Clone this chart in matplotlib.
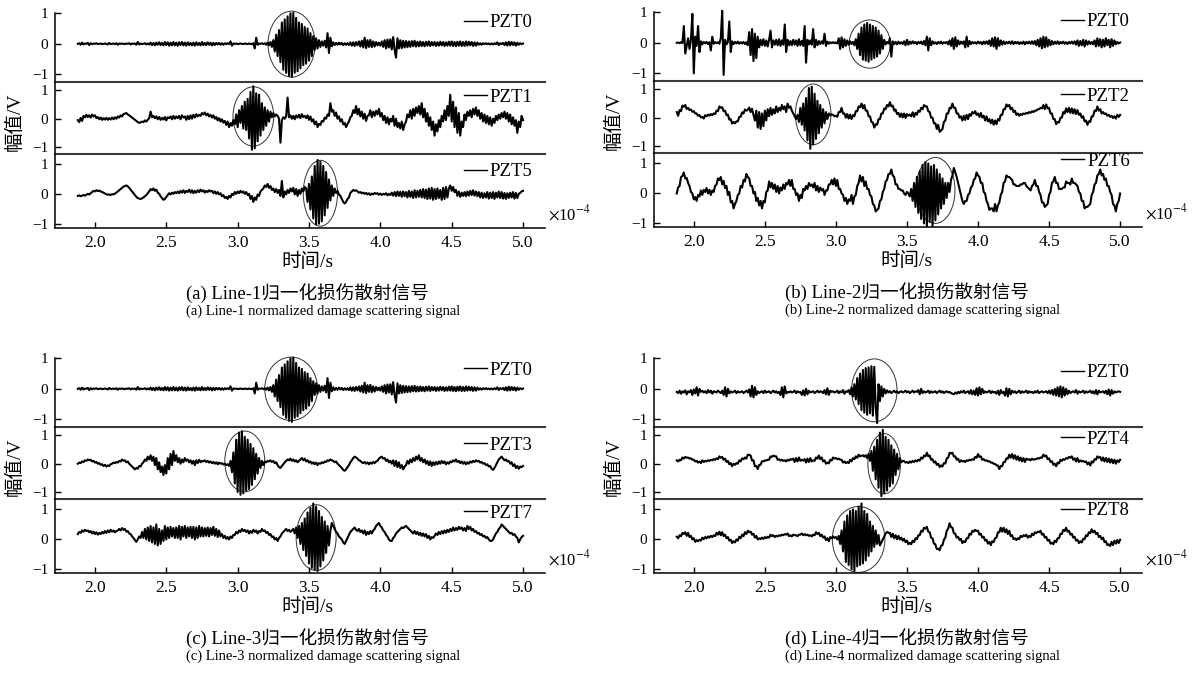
import numpy as np
import matplotlib
matplotlib.use("Agg")
import matplotlib.pyplot as plt
from matplotlib.patches import Ellipse
from matplotlib.lines import Line2D

plt.rcParams['font.family'] = ['Liberation Serif', 'Noto Sans CJK SC']
plt.rcParams['mathtext.fontset'] = 'stix'
plt.rcParams['axes.unicode_minus'] = True

# ####################################### DATA ################################################################ #
# time axis in units of 1e-4 s, signal amplitudes (in 1/100 V)
t = np.round(np.linspace(1.88, 5.00, 313), 2)

line1_pzt0 = [
    0, 2, -3, 4, -2, 1, 0, 3, -4, 2,  -1, 1, 0, 2, -1, 0, 1, -1, 0, 1,
    0, -2, 3, -1, 0, 1, -1, 2, -3, 1,  0, 1, 0, -1, 1, 0, 2, -2, 1, 0,
    1, -3, 6, -2, 1, -1, 0, 2, -2, 1,  -2, 4, -4, 3, -5, 4, -3, 5, -4, 3,
    -5, 6, -4, 5, -6, 4, -5, 6, -5, 4,  -6, 5, -4, 6, -5, 4, -6, 5, -4, 3,
    -5, 4, -6, 5, -4, 3, -5, 6, -4, 3,  -4, 5, -3, 4, -5, 3, -4, 3, -2, 3,
    -3, 2, -3, 2, -1, 2, -1, 8, -6, 1,  0, 1, -1, 0, 1, 0, -1, 1, 0, -1,
    1, 0, -1, 2, -15, 20, -3, 1, 0, 2,  -1, 2, -3, 4, -5, 6, -10, 12, -25, 30,
    -40, 45, -60, 70, -85, 80, -95, 90, -105, 100,  -108, 102, -95, 85, -90, 70, -80, 65, -70, 55,
    -65, 50, -55, 35, -40, 25, -20, 18, -15, 12,  -10, 8, -6, 10, -12, 35, -30, 20, -8, 5,
    -4, 3, -3, 4, -2, 3, -4, 2, -3, 2,  -4, 5, -6, 5, -7, 6, -5, 8, -9, 10,
    -12, 20, -14, 12, -10, 13, -11, 8, -9, 6,  -5, 4, -6, 8, -10, 12, -15, 14, -12, 15,
    -18, 22, -20, -45, 18, -15, 12, -14, 10, -12,  9, -11, 8, -10, 9, -8, 10, -9, 7, -8,
    8, -7, 6, -8, 7, -6, 8, -7, 6, -5,  6, -7, 5, -6, 7, -5, 6, -7, 5, -6,
    7, -6, 8, -7, 6, -8, 7, -6, 8, -7,  6, -7, 8, -6, 7, -5, 6, -7, 5, -6,
    4, -3, 2, -3, 2, -1, 2, -1, 1, -2,  1, -2, 2, -1, 5, -4, 2, -1, 3, -4,
    5, -6, 7, -5, 6, -4, 5, -6, 4, -3,  2, -1, 1]

line1_pzt1 = [
    -5, -12, 3, -8, 10, 5, 14, 6, 12, 4,  15, 8, 12, 2, 6, -2, 4, -4, 2, -3,
    3, -4, 2, -3, 4, -2, 5, 0, 8, 4,  12, 8, 16, 18, 20, 15, 12, 8, 4, 0,
    -4, -8, -12, -15, -13, -10, -12, -6, -10, -4,  2, 25, 5, 10, 2, 8, -2, 6, -4, 3,
    -3, 6, -6, 5, 2, 8, -2, 10, 0, 8,  2, 10, -2, 12, 4, 8, -4, 10, -2, 12,
    0, 14, 4, 16, 8, 14, 10, 20, 15, 22,  12, 18, 8, 14, 4, 12, 0, 6, -6, 2,
    -10, -2, -14, -8, -22, -10, -30, -15, -25, -5,  -20, 15, -30, 30, -15, 45, -35, 60, -40, 70,
    -70, 95, -110, 115, -105, 90, -80, 85, -60, 55,  -40, 40, -25, 30, -10, 25, 5, 20, 8, 15,
    10, 0, -85, -5, 5, 0, 8, 75, 5, 12,  0, 10, -2, 12, 4, 14, 2, 16, 6, 10,
    2, 12, -4, 8, -10, -2, -20, -10, -30, -18,  -22, -8, -10, 4, 0, 15, 10, 55, 25, 30,
    10, 22, 0, 8, -10, -2, -20, -15, -30, -18,  -10, 5, 10, 30, 20, 45, 15, 35, 8, 25,
    0, 18, -8, 10, 12, 30, 5, 25, 10, 28,  15, 35, 8, 20, -5, 10, -15, 5, -20, 0,
    -10, 10, -25, 0, -30, -15, -35, -10, -40, -20,  -10, 15, 5, 30, 0, 35, 10, 40, 20, 45,
    15, 55, 5, 35, -10, 20, -25, 5, -40, -10,  -60, -20, -45, -5, -30, 10, -10, 30, -5, 45,
    10, 85, -10, 60, -30, 40, -50, 20, -60, -10,  -30, 15, -5, 25, 10, 30, 5, 35, 15, 40,
    10, 30, 0, 20, -10, 15, -15, 10, -20, 5,  -25, 0, -15, 10, -5, 15, 0, 20, 5, 25,
    0, 20, -10, 15, -20, 5, -25, -5, -50, -10,  -30, 10, -5]

line1_pzt5 = [
    -5, -3, -6, -4, -2, -4, -1, 2, 0, 4,  8, 12, 10, 14, 11, 13, 10, 8, 6, 3,
    1, -1, 0, -2, 1, 0, 3, 6, 10, 14,  18, 22, 26, 28, 30, 27, 22, 16, 10, 4,
    -2, -8, -12, -14, -15, -13, -10, -6, -2, 4,  10, 18, 14, 20, 12, 16, 6, 2, -6, -12,
    -18, -15, -8, -2, 4, 0, 6, 2, 8, 4,  10, 4, 12, 6, 14, 5, 12, 8, 16, 6,
    14, 4, 12, 6, 14, 8, 16, 10, 14, 6,  12, 8, 14, 10, 12, 4, 10, 2, 8, 0,
    4, -6, -2, -12, -8, -15, -5, -10, 2, -2,  8, 2, 10, 4, 12, 6, 10, 2, 8, -2,
    2, -15, -5, -25, -10, -18, 0, -5, 10, 15,  20, 30, 25, 35, 22, 28, 15, 20, 8, 18,
    5, 15, -5, 45, -10, 10, 0, 15, 5, 20,  10, 22, 0, 18, -5, 15, 2, 20, 10, 25,
    20, -25, 35, -50, 60, -80, 95, -100, 115, -98,  110, -90, 95, -70, 75, -45, 50, -20, 30, -5,
    20, 5, 12, 0, -5, -15, -25, -30, -25, -15,  -10, 5, 10, 15, 12, 14, 10, 6, 8, 4,
    6, 2, 5, 0, 4, -2, 3, 0, 5, 2,  4, -1, 3, -2, 2, 0, 4, -3, 2, -2,
    6, -4, 8, -6, 10, -5, 9, -8, 10, -6,  8, -10, 12, -8, 10, -12, 14, -10, 12, -8,
    15, -10, 18, -12, 16, -15, 20, -14, 22, -18,  18, -15, 20, -12, 15, -18, 22, -15, 25, -10,
    20, 30, 12, 25, 8, 15, -5, 10, -8, 6,  -5, 8, -6, 10, -4, 12, -2, 14, -4, 10,
    -6, 8, -10, 6, -12, 4, -10, 8, -14, 6,  -12, 8, -15, 6, -10, 10, -12, 8, -14, 5,
    -15, 4, -12, 6, -10, 8, -14, 5, -12, 2,  5, 10, 12]

line2_pzt0 = [
    0, 1, -1, 2, -1, 55, -35, -10, 15, -20,  10, 95, -100, 20, -10, 55, -30, 5, -5, 3,
    -2, 3, -4, 2, -25, 20, -3, 2, -1, 2,  -3, 15, 105, -105, 10, -5, 3, 70, -30, 5,
    -4, 3, -2, 4, -3, 2, -2, 3, -4, 2,  -8, 35, -40, 45, -60, 30, -50, 20, -15, 10,
    -8, 12, -10, 8, -12, 10, 40, -15, 8, -6,  10, -8, 12, -10, 8, -6, 60, -30, 10, -8,
    6, -8, 10, -6, 8, -10, 12, -8, 6, -10,  55, -65, 10, -5, 8, -6, 45, -15, 10, -8,
    6, -4, 5, -3, 30, -10, 4, -3, 2, -1,  2, -1, 1, -2, 15, -20, 18, -15, 12, -10,
    8, -6, 5, -4, 3, -8, 12, -20, 30, -40,  50, -55, 60, -58, 65, -62, 60, -55, 55, -50,
    50, -45, 40, -35, 25, -20, 10, -5, 3, -2,  15, -45, 5, -4, 3, -5, 4, -3, 2, -4,
    5, -8, 10, -6, 4, -3, 5, -2, 3, -4,  3, -2, 4, -5, 6, -8, 20, -25, 15, -8,
    5, -3, 2, -4, 3, -2, 4, -3, 2, -1,  3, -5, 8, -10, 15, -20, 18, -12, 8, -5,
    4, -3, 5, -15, 20, -12, 6, -4, 3, -2,  2, -3, 4, -2, 3, -5, 4, -3, 5, -4,
    8, -10, 15, -12, 18, -20, 15, -10, 8, -6,  5, -4, 3, -2, 4, -3, 5, -4, 3, -2,
    3, -4, 2, -3, 4, -5, 3, -2, 4, -3,  5, -4, 6, -8, 10, -12, 15, -18, 20, -15,
    18, -12, 10, -8, 6, -5, 4, -3, 5, -4,  3, -2, 4, -3, 2, -4, 3, -2, 4, -3,
    5, -6, 8, -10, 6, -8, 10, -12, 8, -6,  5, -4, 3, -5, 8, -12, 15, -10, 12, -15,
    10, -12, 15, -8, 10, -15, 12, -10, 8, -5,  3, -2, 1]

line2_pzt2 = [
    20, 7, 27, 23, 43, 39, 45, 31, 35, 27,  29, 21, 23, 15, 15, 7, 9, 1, 3, -3,
    9, 5, 11, 7, 13, 9, 15, 13, 25, 23,  40, 35, 37, 23, 25, 9, 11, -7, -5, -21,
    -15, -20, -13, -13, 3, 3, 19, 15, 29, 25,  28, 36, 20, 32, 10, -10, 25, -35, 20, -40,
    15, -30, 25, -10, 30, 5, 35, 10, 30, 15,  40, 20, 35, 25, 45, 30, 40, 20, 50, 35,
    40, 25, 15, 5, -5, 10, -15, 35, -25, 50,  -45, 70, -80, 105, -110, 110, -95, 85, -75, 60,
    -55, 45, -35, 30, -20, 20, -5, 15, 8, 12,  10, 5, 7, 3, 20, 20, 35, 15, 15, 0,
    13, -3, 11, -5, 9, 5, 23, 23, 40, 37,  50, 33, 45, 25, 25, 5, 5, -15, -17, -35,
    -23, -25, -5, -5, 15, 15, 33, 30, 45, 40,  55, 40, 43, 25, 29, 13, 17, 3, 15, 1,
    15, -1, 13, 7, 11, 5, 19, 3, 17, 11,  25, 21, 35, 30, 45, 40, 40, 23, 20, 0,
    0, -20, -20, -40, -25, -50, -45, -40, -15, -10,  15, 15, 35, 33, 50, 35, 35, 15, 15, 0,
    5, -10, 7, -8, 10, -5, 13, 7, 20, 15,  23, 10, 15, 3, 17, 1, 7, -10, 5, -13,
    -5, -20, -7, -25, -10, -23, -5, -10, 10, 10,  30, 30, 47, 40, 45, 30, 35, 20, 25, 10,
    15, 7, 13, 10, 15, 13, 17, 15, 20, 17,  23, 20, 25, 25, 30, 30, 35, 33, 45, 30,
    47, 33, 35, 15, 15, -5, -5, -23, -15, -17,  0, 0, 20, 15, 33, 20, 35, 17, 33, 15,
    30, 13, 27, 10, 15, 0, 5, -13, -10, -25,  -13, -15, 5, 5, 25, 23, 40, 25, 30, 15,
    20, 13, 15, 7, 10, 3, 7, -1, 5, -3,  10, 3, 10]

line2_pzt6 = [
    0, 20, 25, 55, 58, 70, 50, 52, 35, 25,  5, 0, -20, -12, -25, -5, -10, 10, -5, 12,
    5, 18, 0, 12, -5, 10, 5, 25, 30, 50,  45, 55, 30, 42, 18, 25, -5, 5, -30, -25,
    -50, -35, -25, -5, 0, 25, 20, 45, 40, 65,  55, 50, 25, 25, 0, 5, -25, -15, -40, -25,
    -50, -25, -30, 5, 10, 40, 20, 35, 15, 30,  5, 25, 0, 20, 10, 30, 15, 35, 30, 45,
    25, 45, 15, 15, -5, 0, -25, -5, -15, 15,  10, 25, 15, 35, 25, 30, 20, 35, 10, 25,
    5, 20, 10, 15, -5, 10, 10, 30, 30, 45,  30, 50, 25, 45, 15, 15, 0, -5, -25, -15,
    -35, -20, -25, -5, -35, -10, -5, 25, 35, 60,  40, 55, 25, 40, 15, 15, -5, -10, -35, -40,
    -60, -55, -50, -25, -20, 5, 15, 40, 45, 65,  65, 80, 60, 55, 30, 30, 15, 15, 10, 10,
    0, -5, 5, 0, -10, 15, -25, 35, -45, 55,  -65, 75, -85, 95, -100, 105, -110, 100, -95, 90,
    -110, 95, -90, 80, -70, 65, -50, 50, -35, 35,  -15, 35, 5, 45, 60, 85, 70, 55, 35, 15,
    -5, -25, -35, -25, -25, -5, 0, 20, 25, 45,  50, 70, 60, 55, 35, 35, 5, 0, -25, -35,
    -55, -50, -50, -60, -35, -60, -40, -30, -5, 5,  35, 40, 60, 55, 55, 50, 45, 30, 30, 25,
    25, 25, 30, 30, 35, 35, 25, 20, 15, 10,  25, 30, 45, 25, 25, 5, -5, -30, -30, -45,
    -40, -35, -5, 5, 35, 40, 55, 35, 35, 15,  15, 15, 20, 20, 40, 35, 35, 30, 50, 35,
    35, 30, 25, 5, 0, -25, -25, -50, -45, -45,  -40, -35, -5, 5, 30, 35, 60, 65, 80, 60,
    65, 45, 50, 25, 25, 5, -5, -35, -40, -60,  -35, -25, 0]

line3_pzt0 = line1_pzt0  # same PZT0 record as Line-1

line3_pzt3 = [
    0, 4, 2, 8, 6, 12, 10, 15, 12, 14,  8, 10, 4, 6, 0, 2, -4, -2, -8, -4,
    -10, -6, -8, -2, 0, 4, 2, 6, 4, 10,  8, 15, 10, 12, 5, 8, 0, -5, -10, -15,
    -20, -15, -18, -8, -10, 0, 5, 15, 10, 25,  15, 30, 10, 25, -5, 20, -20, 5, -30, -10,
    -40, -5, -35, 20, -20, 35, -5, 45, 10, 30,  5, 20, 0, 15, 5, 20, 10, 15, 5, 12,
    0, 10, -5, 12, 2, 14, 5, 10, 8, 12,  6, 10, 4, 8, 2, 6, 0, 5, -2, 4,
    0, 2, -3, 0, -5, -2, -8, 10, -30, 40,  -70, 85, -100, 110, -110, 115, -105, 95, -95, 85,
    -90, 70, -75, 55, -55, 35, -35, 20, -15, 10,  -5, 8, 5, 10, 8, 12, 6, 10, 2, 5,
    -5, -12, -15, -8, -2, 5, 10, 15, 12, 18,  10, 15, 8, 12, 5, 10, 15, 20, 12, 18,
    8, 12, 4, 8, 0, 5, -2, 4, -5, 2,  0, 5, 2, 8, 6, 12, 10, 15, 12, 10,
    5, 8, 0, -5, -10, -15, -22, -25, -20, -12,  -5, 5, 12, 20, 25, 22, 18, 12, 10, 5,
    2, 6, 0, 5, -2, 4, 0, 6, 2, 8,  10, 18, 22, 25, 18, 20, 10, 15, 5, 10,
    0, 12, -8, 10, -12, 5, -15, -5, -20, -10,  -5, 10, 0, 15, 5, 20, 10, 25, 15, 30,
    10, 20, 5, 15, 0, 10, -5, 8, -8, 5,  -5, 6, -2, 8, 0, 10, 2, 8, -2, 5,
    0, 8, 5, 12, 8, 15, 6, 10, 2, 8,  0, 6, -2, 5, 0, 8, 4, 10, 6, 12,
    8, 10, 4, 6, 0, 2, -5, -2, -10, -8,  -18, -22, -15, -5, 5, 15, 20, 25, 18, 12,
    15, 8, 10, 0, 5, -8, -2, -15, -8, -18,  -10, -12, -8]

line3_pzt7 = [
    18, 25, 22, 30, 26, 32, 28, 30, 24, 28,  20, 26, 18, 24, 16, 22, 18, 25, 20, 28,
    22, 30, 24, 32, 26, 30, 24, 28, 30, 35,  30, 38, 32, 35, 26, 28, 20, 18, 10, 5,
    -2, -8, 0, 10, 5, 25, 5, 35, 0, 40,  -5, 45, -10, 40, -15, 50, -20, 35, -15, 30,
    -5, 45, 0, 40, 5, 42, 10, 38, 5, 40,  5, 45, 0, 42, 10, 45, 5, 40, 10, 42,
    5, 42, 0, 40, 5, 45, 10, 40, 10, 38,  12, 40, 10, 38, 15, 42, 12, 35, 8, 30,
    10, 18, 5, 12, 2, 8, 0, 10, 5, 15,  15, 25, 20, 30, 25, 35, 28, 32, 25, 30,
    20, 28, 22, 32, 25, 30, 20, 28, 25, 35,  28, 30, 22, 25, 15, 18, 8, 10, 0, 5,
    -5, 5, 10, 20, 25, 30, 35, 28, 32, 25,  30, 35, 20, 40, 5, 45, -15, 55, -35, 70,
    -55, 90, -80, 105, -95, 120, -100, 110, -105, 95,  -90, 75, -70, 60, -45, 45, -20, 30, 55, 45,
    35, 25, 20, 10, 5, 0, -10, -15, -5, 5,  15, 25, 30, 35, 40, 32, 28, 35, 25, 30,
    20, 30, 15, 25, 18, 28, 20, 30, 35, 45,  50, 55, 45, 40, 30, 25, 15, 10, 0, -5,
    -5, 5, 10, 20, 25, 30, 35, 40, 38, 42,  45, 40, 35, 30, 25, 20, 28, 18, 25, 15,
    22, 12, 20, 10, 18, 5, 12, 0, 8, 5,  12, 20, 15, 25, 18, 28, 20, 30, 22, 32,
    25, 35, 28, 40, 30, 38, 32, 42, 35, 40,  30, 38, 28, 45, 35, 42, 30, 35, 25, 28,
    20, 22, 15, 18, 10, 12, 5, 8, 0, -5,  -5, 0, 10, 20, 25, 35, 40, 50, 45, 40,
    35, 30, 25, 20, 22, 15, 18, 10, 5, -10,  0, 8, 12]

line4_pzt0 = [
    -10, -14, -6, -16, -8, -12, -5, -18, -8, -12,  -4, -20, -2, -15, 5, -22, 0, -10, -6, -12,
    -8, -14, -4, -12, -6, -16, -8, -10, -12, -6,  -10, -14, -6, -20, 5, -25, 0, -15, -8, -12,
    -10, -6, -14, -8, -12, -10, -8, -14, -10, -6,  -12, -2, -25, 10, -28, 5, -20, -8, -14, -10,
    -8, -14, -6, -12, -10, -8, -14, -10, -6, -12,  -8, -14, -10, -20, 5, -28, 8, -15, -10, -12,
    -8, -12, -10, -6, -14, -8, -12, -10, -20, -5,  -22, 0, -18, -6, -12, -10, -8, -14, -10, -6,
    -12, -8, -10, -14, -4, -18, 2, -20, -6, -10,  -8, -12, -10, -6, -14, -8, -12, -4, -16, -8,
    -10, -4, -18, 5, -25, 15, -35, 35, -50, 50,  -70, 62, -78, 68, -85, 70, -80, 74, -88, 72,
    -60, -112, 15, -40, 8, -25, 0, -15, -5, -12,  -8, -14, -10, -6, -12, -8, -14, -10, -8, -12,
    -10, -6, -12, -8, -14, -10, -6, -12, -8, -10,  -4, -18, 0, -14, -8, -12, -10, -6, -14, -8,
    -12, -10, -8, -14, -10, -6, -12, -8, -14, -10,  -8, -12, -10, -14, -16, -18, -12, -16, -10, -14,
    -8, -12, -6, -14, -10, -8, -16, -4, -18, -6,  -20, 2, -22, 5, -18, 0, -14, -8, -12, -10,
    -6, -14, -8, -12, -10, -16, -6, -20, -4, -14,  -10, -22, 2, -25, 0, -18, -6, -12, -8, -14,
    -10, -6, -14, -8, -12, -10, -6, -14, -8, -12,  -10, -14, -8, -12, -6, -14, -10, -8, -12, -10,
    -8, -14, -6, -16, -4, -20, 0, -22, 5, -25,  8, -28, 5, -22, 0, -18, -6, -14, -10, -8,
    -12, -4, -16, -8, -12, -10, -6, -14, -8, -12,  -10, -6, -14, -8, -16, -4, -18, -6, -12, -10,
    -8, -14, -6, -18, -2, -22, -4, -16, -8, -12,  -10, -8, -10]

line4_pzt4 = [
    12, 8, 14, 12, 22, 18, 24, 21, 22, 18,  19, 14, 14, 8, 10, 4, 8, 2, 12, 6,
    10, 8, 12, 10, 14, 12, 16, 14, 19, 16,  26, 21, 24, 14, 18, 6, 10, -2, 2, -9,
    0, -4, 2, 0, 12, 8, 19, 16, 22, 18,  32, 31, 29, 11, 12, -9, -8, -19, -4, -4,
    9, 8, 12, 11, 14, 14, 26, 24, 29, 26,  26, 14, 16, 11, 14, 10, 12, 8, 14, 11,
    16, 14, 18, 6, 20, 8, 22, 10, 14, 11,  16, 4, 18, 6, 20, 8, 12, 10, 22, 18,
    29, 16, 22, 8, 12, 0, 4, 1, 14, 11,  22, 18, 20, 16, 18, 14, 14, 4, 8, 2,
    6, 2, 14, 8, 20, 16, 26, 21, 32, 26,  28, 30, 25, 30, 20, 35, 10, 45, -25, 60,
    -55, 85, -85, 110, -115, 120, -105, 95, -95, 85,  -80, 65, -70, 50, -40, 35, -20, 20, 5, 10,
    9, 4, 6, 2, 8, 4, 10, 6, 12, 8,  14, 11, 22, 18, 29, 26, 39, 26, 29, 14,
    16, 4, 8, -4, 0, -12, -6, -10, 2, 1,  19, 21, 39, 36, 39, 26, 26, 14, 18, 6,
    12, 8, 10, 6, 12, 10, 14, 12, 16, 14,  24, 21, 34, 24, 26, 14, 16, 11, 12, 8,
    9, 4, 4, 0, -1, -6, -6, -19, -8, -9,  6, 6, 19, 18, 32, 21, 34, 18, 30, 14,
    26, 11, 22, 8, 20, 6, 18, 14, 16, 12,  18, 14, 16, 16, 20, 18, 22, 21, 32, 26,
    29, 16, 19, 6, 9, -4, 0, -9, 4, 1,  14, 10, 16, 14, 20, 18, 24, 21, 26, 14,
    19, 8, 20, 6, 12, 8, 10, 6, 8, -2,  4, -6, 8, 4, 16, 14, 26, 21, 24, 11,
    22, 8, 20, 6, 18, 4, 16, 2, 14, 0,  12, 6, 14]

line4_pzt8 = [
    9, 4, 14, 11, 22, 18, 24, 12, 22, 8,  12, 0, 4, -8, -2, -6, -1, -4, 6, 1,
    8, 4, 10, 6, 12, 8, 14, 11, 22, 16,  26, 14, 24, 11, 16, 4, 8, -4, -1, -12,
    -6, -10, 0, -4, 9, 4, 16, 11, 24, 18,  29, 24, 26, 16, 19, 6, 12, 0, 4, 1,
    6, 2, 8, 4, 9, 6, 16, 11, 14, 8,  12, 10, 14, 12, 16, 14, 18, 16, 20, 11,
    14, 10, 16, 14, 14, 11, 16, 16, 20, 14,  18, 14, 16, 12, 14, 10, 16, 14, 24, 18,
    22, 11, 16, 6, 10, -2, 4, -6, 8, 4,  10, 5, 8, 0, 12, -15, 30, -40, 60, -75,
    80, -85, 95, -100, 100, -105, 95, -90, 110, -85,  120, -80, 95, -70, 85, -55, 60, -40, 45, -25,
    30, -15, 15, -20, -10, 0, 10, 20, 25, 22,  22, 8, 19, 4, 14, 1, 12, 0, 6, -4,
    2, -9, -4, -16, -11, -16, -4, -9, 4, 1,  14, 14, 29, 26, 39, 36, 42, 26, 24, 6,
    4, -14, -16, -32, -31, -36, -21, -19, -1, 6,  29, 36, 54, 41, 39, 21, 19, 6, 9, -2,
    2, -12, -6, -9, 4, 4, 19, 16, 29, 26,  32, 28, 29, 16, 19, 6, 9, -4, -1, -14,
    -8, -19, -6, -9, 4, 6, 24, 24, 39, 26,  39, 24, 34, 18, 29, 11, 14, 1, 4, -2,
    4, 1, 12, 8, 14, 11, 16, 6, 12, 8,  19, 14, 24, 21, 26, 24, 29, 16, 19, 6,
    9, -4, -1, -14, -11, -16, -4, -9, 4, 4,  19, 18, 32, 28, 39, 26, 29, 16, 19, 6,
    9, -4, -1, -12, -6, -10, 2, 1, 14, 11,  24, 21, 34, 24, 29, 18, 22, 8, 12, 1,
    6, -9, -6, -19, -16, -22, -8, -19, -4, -14,  -2, -12, -1]

# circled damage-scattering wave packets: (centre t, width, centre amp, height)
ell_line1 = [(3.378, 0.33, -0.01, 2.16), (3.11, 0.285, 0.08, 2.10), (3.58, 0.24, 0.04, 2.20)]
ell_line2 = [(3.238, 0.29, -0.04, 1.58), (2.84, 0.25, 0.12, 2.15), (3.70, 0.276, 0.10, 2.20)]
ell_line3 = [(3.375, 0.37, 0.00, 2.08), (3.05, 0.28, 0.08, 2.15), (3.55, 0.28, 0.06, 2.20)]
ell_line4 = [(3.27, 0.32, -0.05, 2.06), (3.34, 0.23, 0.00, 2.13), (3.16, 0.37, 0.00, 2.20)]

xticks = [2.0, 2.5, 3.0, 3.5, 4.0, 4.5, 5.0]

# ####################################### FIGURE ############################################################## #
W, H = 1202.0, 673.0
fig = plt.figure(figsize=(W / 100, H / 100), dpi=100)

panels = [
    dict(x0=55, x1=545, dy=0, tag='a', n=1, names=['PZT0', 'PZT1', 'PZT5'],
         sigs=[line1_pzt0, line1_pzt1, line1_pzt5], ells=ell_line1, leg=[0.86, 0.79, 0.76]),
    dict(x0=654, x1=1142, dy=-1, tag='b', n=2, names=['PZT0', 'PZT2', 'PZT6'],
         sigs=[line2_pzt0, line2_pzt2, line2_pzt6], ells=ell_line2, leg=[0.86, 0.79, 0.89]),
    dict(x0=55, x1=545, dy=345, tag='c', n=3, names=['PZT0', 'PZT3', 'PZT7'],
         sigs=[line3_pzt0, line3_pzt3, line3_pzt7], ells=ell_line3, leg=[0.83, 0.75, 0.81]),
    dict(x0=654, x1=1142, dy=345, tag='d', n=4, names=['PZT0', 'PZT4', 'PZT8'],
         sigs=[line4_pzt0, line4_pzt4, line4_pzt8], ells=ell_line4, leg=[0.79, 0.83, 0.84]),
]
rows_px = [(13.3, 82.0), (82.0, 154.0), (154.0, 228.0)]
ylims = [(-1.25, 1.0), (-1.25, 1.3), (-1.12, 1.35)]

for p in panels:
    for j in range(3):
        top = p['dy'] + rows_px[j][0]
        bot = p['dy'] + rows_px[j][1]
        ax = fig.add_axes([p['x0'] / W, 1 - bot / H, (p['x1'] - p['x0']) / W, (bot - top) / H])
        ax.patch.set_alpha(0)
        sig = np.array(p['sigs'][j]) / 100.0
        ax.plot(t, sig, color='k', lw=1.5, clip_on=False)
        cx, w, cy, h = p['ells'][j]
        ax.add_patch(Ellipse((cx, cy), w, h, fill=False, ec='#333333', lw=0.7, clip_on=False))
        ax.set_xlim(1.72, 5.154)
        ax.set_ylim(*ylims[j])
        ax.set_yticks([-1, 0, 1])
        ax.set_yticklabels(['\u22121', '0', '1'])
        ax.tick_params(axis='y', direction='in', length=4, width=1, labelsize=11, pad=5)
        for s in ['top', 'right']:
            ax.spines[s].set_visible(False)
        ax.spines['left'].set_linewidth(1.1)
        if j < 2:
            ax.set_xticks([])
            ax.spines['bottom'].set_color('#3a3a3a')
            ax.spines['bottom'].set_linewidth(1.5)
        else:
            ax.set_xticks(xticks)
            ax.set_xticklabels(['%.1f' % v for v in xticks])
            ax.tick_params(axis='x', direction='in', length=4, width=1, labelsize=12.5, pad=5)
            ax.spines['bottom'].set_linewidth(1.1)
        handle = Line2D([], [], color='k', lw=1.0)
        ax.legend([handle], [p['names'][j]], loc='center right', bbox_to_anchor=(0.975, p['leg'][j]),
                  frameon=False, fontsize=13.5, handlelength=1.25, handletextpad=0.15,
                  borderpad=0, borderaxespad=0)

    xc = (p['x0'] + 252) / W
    xl = (p['x0'] + 131) / W
    fig.text(p['x0'] / W - 40 / W, 1 - (p['dy'] + 122) / H, '幅值/V', rotation=90,
             ha='center', va='center', fontsize=14)
    fig.text(p['x1'] / W + 3 / W, 1 - (p['dy'] + 214) / H, r'$\times$10$^{-4}$',
             ha='left', va='center', fontsize=12)
    fig.text(xc, 1 - (p['dy'] + 262) / H, '时间/s', ha='center', va='center', fontsize=14)
    fig.text(xl, 1 - (p['dy'] + 293) / H, '(%s) Line-%d归一化损伤散射信号' % (p['tag'], p['n']),
             ha='left', va='center', fontsize=13.4)
    fig.text(xl, 1 - (p['dy'] + 311) / H, '(%s) Line-%d normalized damage scattering signal' % (p['tag'], p['n']),
             ha='left', va='center', fontsize=10.5)

fig.savefig('out.png', dpi=100)
